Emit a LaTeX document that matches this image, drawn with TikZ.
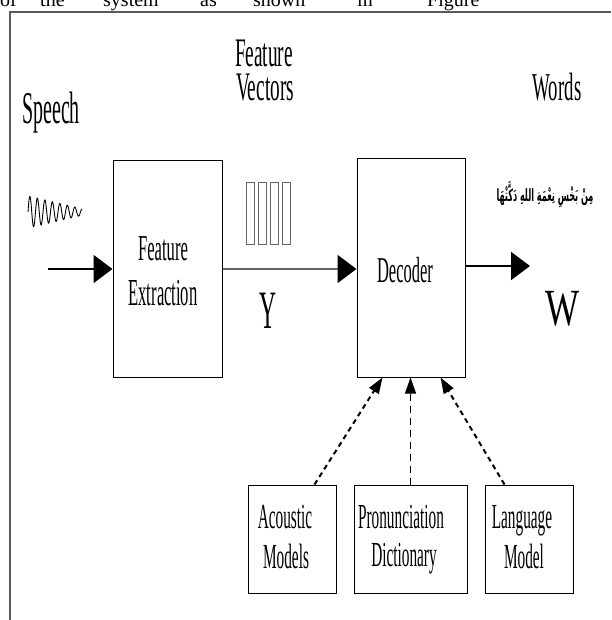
\documentclass[tikz,border=0pt]{standalone}
\usepackage{fontspec}
\setmainfont{Liberation Serif}
\newfontfamily\arabicfont[Script=Arabic]{DejaVu Sans}
\TeXXeTstate=1
\usetikzlibrary{arrows.meta,calc}
\newcommand\stx[3]{\scalebox{1}[#1]{\fontsize{#2}{#2}\selectfont #3}}
\begin{document}
\begin{tikzpicture}[x=1pt,y=-1pt,
  box/.style={draw=black, line width=1pt, inner sep=0pt},
  lbl/.style={anchor=base, inner sep=0pt},
  toptext/.style={anchor=base west, inner sep=0pt, font=\fontsize{20}{20}\selectfont},
  bigarrow/.style={line width=1.6pt, -{Triangle[length=19pt,width=28pt,black]}},
  dotarrow/.style={line width=2pt, dash pattern=on 5pt off 4pt, -{Triangle[length=16pt,width=11pt]}},
  dasharrow/.style={line width=1pt, dash pattern=on 7pt off 5pt, -{Triangle[length=16pt,width=11pt]}},
  vec/.style={draw=black!60, line width=0.9pt, minimum width=8pt, minimum height=62pt, inner sep=0pt}
]
\useasboundingbox (0,0) rectangle (611,620);
% cut-off line of body text
\node[toptext] (t1) at (0,7) {of};
\node[toptext] (t2) at (40,7) {the};
\node[toptext] (t3) at (103,7) {system};
\node[toptext] (t4) at (200,7) {as};
\node[toptext] (t5) at (253,7) {shown};
\node[toptext] (t6) at (357,7) {in};
\node[toptext] (t7) at (427,7) {Figure};
% frame
\draw[line width=2.5pt, black!65] (10,620) -- (10,12) -- (611,12);
% boxes
\node[box, minimum width=109pt, minimum height=216pt] (fe) at (167.5,269) {};
\node[box, minimum width=108pt, minimum height=218pt] (dec) at (411,268) {};
\node[box, minimum width=88pt, minimum height=108pt] (ac) at (292,539) {};
\node[box, minimum width=113pt, minimum height=108pt] (pd) at (410.5,539) {};
\node[box, minimum width=88pt, minimum height=108pt] (lm) at (529,539) {};
% labels
\node[lbl] (speech) at (51,124) {\stx{2.27}{20}{Speech}};
\node[lbl] (fv1) at (264,67) {\stx{2.1}{19.3}{Feature}};
\node[lbl] (fv2) at (265,101) {\stx{2.1}{19.3}{Vectors}};
\node[lbl] (words) at (557,101) {\stx{2.1}{18.8}{Words}};
\node[lbl] (fe1) at (163,260) {\stx{2.2}{16.6}{Feature}};
\node[lbl] (fe2) at (163,305) {\stx{2.3}{16.6}{Extraction}};
\node[lbl] (dect) at (405,282) {\stx{2.2}{16.5}{Decoder}};
\node[lbl] (yy) at (268,328) {\stx{2.3}{23.5}{Y}};
\node[lbl] (ww) at (562,325) {\stx{1.45}{36}{W}};
\node[lbl] (ac1) at (285,528) {\stx{2.3}{15.3}{Acoustic}};
\node[lbl] (ac2) at (286,568) {\stx{2.3}{15.3}{Models}};
\node[lbl] (pd1) at (401,528) {\stx{2.3}{15.3}{Pronunciation}};
\node[lbl] (pd2) at (404,566) {\stx{2.3}{15.3}{Dictionary}};
\node[lbl] (lm1) at (522,528) {\stx{2.3}{15.3}{Language}};
\node[lbl] (lm2) at (524,568) {\stx{2.3}{15.3}{Model}};
\node[lbl] (arab) at (545,201) {\resizebox{97pt}{20pt}{\arabicfont\bfseries
  \beginR مِنْ بَخْسِ نِعْمَةِ اللهِ دَكَّتْهَا\endR}};
% feature vector frames
\foreach \i in {0,1,2} {\node[vec] (v\i) at (250+12*\i,213) {};}
\node[vec] (v3) at (286,213) {};
% speech wave
\draw[line width=0.9pt] plot[domain=0:54, samples=220, smooth] ({28+\x}, {212 - 16*(1-\x/68)*sin(\x*48)});
% connectors
\coordinate (sin) at (48,269);
\coordinate (wout) at (530,266);
\draw[bigarrow] (sin) -- (sin -| fe.west);
\draw[bigarrow, draw=black!60] (fe.east) -- (fe.east -| dec.west);
\draw[bigarrow] (dec.east |- wout) -- (wout);
\draw[dotarrow] ($(ac.north east)+(-22,0)$) -- ($(dec.south west)+(26,0)$);
\draw[dasharrow] (pd.north) -- (dec.south -| pd.north);
\draw[dotarrow] ($(lm.north west)+(20,0)$) -- ($(dec.south east)+(-25,0)$);
\end{tikzpicture}
\end{document}
